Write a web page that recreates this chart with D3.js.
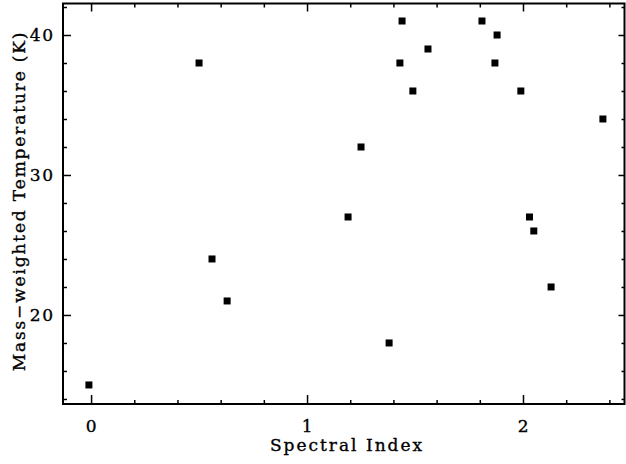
<!DOCTYPE html>
<html>
<head>
<meta charset="utf-8">
<script src="https://cdn.jsdelivr.net/npm/d3@7"></script>
<style>
  body { margin: 0; background: #fff; }
  svg { display: block; }
  .lab { font-family: "DejaVu Serif", serif; fill: #000; stroke: #000; stroke-width: 0.35; }
</style>
</head>
<body>
<div id="chart"></div>
<script>
// spectral index vs mass-weighted temperature
const spectralIndex = [-0.01, 0.50, 0.56, 0.63, 1.19, 1.25, 1.38, 1.43, 1.44, 1.49, 1.56, 1.81, 1.87, 1.88, 1.99, 2.03, 2.05, 2.13, 2.37];
const temperature   = [15, 38, 24, 21, 27, 32, 18, 38, 41, 36, 39, 41, 38, 40, 36, 27, 26, 22, 34];
const xMajor = [0, 1, 2];
const yMajor = [20, 30, 40];

const W = 626, H = 464;
const margin = {top: 3.5, right: 1.5, bottom: 60, left: 63};
const width = W - margin.left - margin.right;
const height = H - margin.top - margin.bottom;

const svg = d3.select("#chart").append("svg")
    .attr("width", W)
    .attr("height", H);

const g = svg.append("g")
    .attr("transform", `translate(${margin.left},${margin.top})`);

const x = d3.scaleLinear().domain([-0.13, 2.47]).range([0, width]);
const y = d3.scaleLinear().domain([13.64, 42.25]).range([height, 0]);

// minor tick positions
const xMinor = d3.range(0, 2.41, 0.2).map(v => Math.round(v * 10) / 10).filter(v => !xMajor.includes(v));
const yMinor = d3.range(14, 42.1, 2).filter(v => !yMajor.includes(v));

// bottom
let bx = g.append("g").attr("transform", `translate(0,${height})`);
bx.call(d3.axisBottom(x).tickValues(xMajor).tickSize(-9).tickFormat(""));
bx.append("g").call(d3.axisBottom(x).tickValues(xMinor).tickSize(-4).tickFormat(""));
// top
let tx = g.append("g");
tx.call(d3.axisTop(x).tickValues(xMajor).tickSize(-8).tickFormat(""));
tx.append("g").call(d3.axisTop(x).tickValues(xMinor).tickSize(-4).tickFormat(""));
// left
let ly = g.append("g");
ly.call(d3.axisLeft(y).tickValues(yMajor).tickSize(-8).tickFormat(""));
ly.append("g").call(d3.axisLeft(y).tickValues(yMinor).tickSize(-4).tickFormat(""));
// right
let ry = g.append("g").attr("transform", `translate(${width},0)`);
ry.call(d3.axisRight(y).tickValues(yMajor).tickSize(-6).tickFormat(""));
ry.append("g").call(d3.axisRight(y).tickValues(yMinor).tickSize(-3).tickFormat(""));

g.selectAll(".domain").remove();
g.selectAll(".tick line").attr("stroke", "#000").attr("stroke-width", 1.5);

// frame
g.append("rect")
    .attr("width", width)
    .attr("height", height)
    .attr("fill", "none")
    .attr("stroke", "#000")
    .attr("stroke-width", 2);

// tick labels
g.selectAll(".xlab").data(xMajor).enter().append("text")
    .attr("class", "lab")
    .attr("x", d => x(d) + 0.8)
    .attr("y", height + 27.5)
    .attr("text-anchor", "middle")
    .style("font-size", "17px")
    .style("letter-spacing", "1.5px")
    .text(d => d);

g.selectAll(".ylab").data(yMajor).enter().append("text")
    .attr("class", "lab")
    .attr("x", -8.5)
    .attr("y", d => y(d) + 6)
    .attr("text-anchor", "end")
    .style("font-size", "17px")
    .style("letter-spacing", "1.5px")
    .text(d => d);

// axis titles
svg.append("text")
    .attr("class", "lab")
    .attr("x", 347)
    .attr("y", 451)
    .attr("text-anchor", "middle")
    .style("font-size", "17px")
    .style("letter-spacing", "2px")
    .text("Spectral Index");

svg.append("text")
    .attr("class", "lab")
    .attr("transform", "translate(25,201) rotate(-90)")
    .attr("text-anchor", "middle")
    .style("font-size", "17px")
    .style("letter-spacing", "1.85px")
    .text("Mass\u2212weighted Temperature (K)");

// points
g.selectAll(".pt").data(spectralIndex).enter().append("rect")
    .attr("class", "pt")
    .attr("x", d => x(d) - 3.5)
    .attr("y", (d, i) => y(temperature[i]) - 3.5)
    .attr("width", 7)
    .attr("height", 7)
    .attr("fill", "#000");
</script>
</body>
</html>
